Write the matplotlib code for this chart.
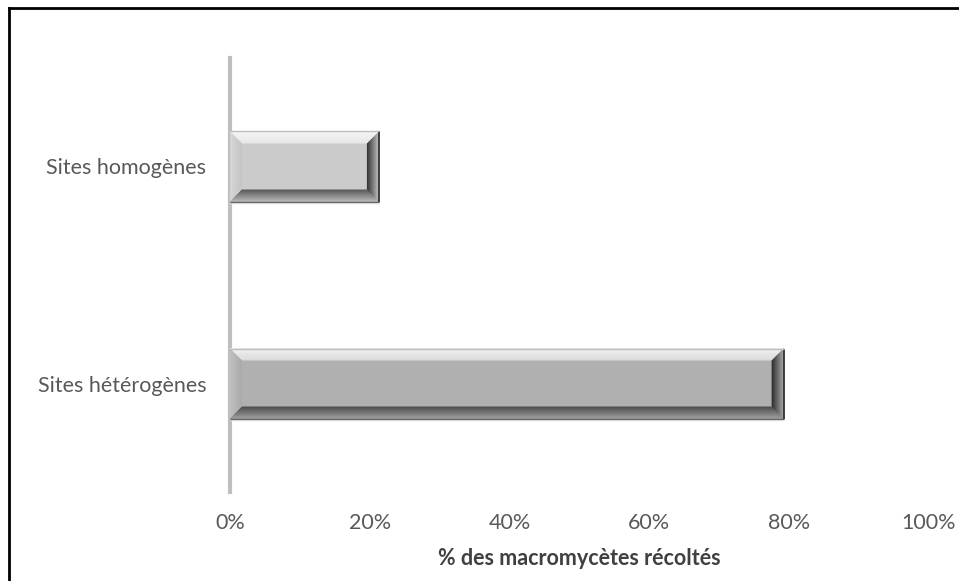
import numpy as np
import matplotlib.pyplot as plt
from matplotlib.patches import Polygon
from matplotlib.lines import Line2D
from matplotlib.colors import to_rgb

plt.rcParams['font.family'] = ['Lato', 'DejaVu Sans']

# données
categories = ['Sites hétérogènes', 'Sites homogènes']
pourcentages = [79.2, 21.3]
couleurs = ['#b0b0b0', '#cbcbcb']
xticks = [0, 20, 40, 60, 80, 100]
xlabel = '% des macromycètes récoltés'

W, H = 959, 581
fig = plt.figure(figsize=(W / 100, H / 100), dpi=100)
x0, x1, y0, y1 = 230, 929, 58, 492
ax = fig.add_axes([x0 / W, 1 - y1 / H, (x1 - x0) / W, (y1 - y0) / H])
ax.set_xlim(0, 100)
ax.set_ylim(-0.5, 1.5)

px_x = 100 / (x1 - x0)
px_y = 2 / (y1 - y0)
hauteur = 70 * px_y


def shade(c, f):
    c = np.array(to_rgb(c))
    if f > 0:
        return tuple(c + (1 - c) * f)
    return tuple(c * (1 + f))


def mix(a, b, t):
    return tuple(np.array(a) * (1 - t) + np.array(b) * t)


def barre_biseautee(y, val, col):
    h = hauteur / 2
    ax.barh(y, val, height=hauteur, color=col, edgecolor='none', zorder=2)
    bx, by = 12 * px_x, 12 * px_y
    xl, xr, yb, yt = 0, val, y - h, y + h
    # (bord extérieur, bord intérieur) de chaque facette
    teintes = {
        'haut': (shade(col, 0.55), shade(col, 0.8)),
        'gauche': (shade(col, -0.03), shade(col, 0.2)),
        'bas': (shade(col, -0.55), shade(col, -0.12)),
        'droite': (shade(col, -0.72), shade(col, -0.08)),
    }
    n = 10
    for k in range(n):
        t = 1 - k / n
        dx, dy = bx * t, by * t
        u = k / (n - 1)
        faces = [
            ([(xl, yt), (xr, yt), (xr - dx, yt - dy), (xl + dx, yt - dy)], 'haut'),
            ([(xl, yb), (xl, yt), (xl + dx, yt - dy), (xl + dx, yb + dy)], 'gauche'),
            ([(xl, yb), (xr, yb), (xr - dx, yb + dy), (xl + dx, yb + dy)], 'bas'),
            ([(xr, yb), (xr, yt), (xr - dx, yt - dy), (xr - dx, yb + dy)], 'droite'),
        ]
        for pts, nom in faces:
            c = mix(*teintes[nom], u)
            ax.add_patch(Polygon(pts, closed=True, facecolor=c, edgecolor='none', zorder=3 + k))
    ax.plot([xr, xr], [yb, yt], color='#303030', lw=1.3, zorder=20, solid_capstyle='butt')
    ax.plot([xl, xr], [yb, yb], color='#4a4a4a', lw=0.8, zorder=20, solid_capstyle='butt')
    ax.plot([xl, xr], [yt, yt], color='#bdbdbd', lw=1.0, zorder=20, solid_capstyle='butt')
    ax.plot([xl, xr], [yb - 1.5 * px_y, yb - 1.5 * px_y], color='#d9d9d9', lw=1.0, zorder=20,
            solid_capstyle='butt')


for i, (v, c) in enumerate(zip(pourcentages, couleurs)):
    barre_biseautee(i, v, c)

for s in ['top', 'right', 'bottom']:
    ax.spines[s].set_visible(False)
ax.spines['left'].set_color('#bfbfbf')
ax.spines['left'].set_linewidth(3)
ax.spines['left'].set_zorder(1)

ax.set_yticks([0, 1])
ax.set_yticklabels(categories, fontsize=15.5, color='#595959')
ax.set_xticks(xticks)
ax.set_xticklabels([f'{t}%' for t in xticks], fontsize=15.5, color='#595959')
ax.tick_params(axis='both', length=0)
ax.tick_params(axis='y', pad=17)
ax.tick_params(axis='x', pad=15)
ax.set_xlabel(xlabel, fontsize=15.5, fontweight='bold', color='#404040', labelpad=11)

# cadre du graphique (haut et gauche)
fig.add_artist(Line2D([8.5 / W, 8.5 / W], [0, 1 - 7.5 / H], color='black', lw=2, transform=fig.transFigure))
fig.add_artist(Line2D([8.5 / W, 1], [1 - 7.5 / H, 1 - 7.5 / H], color='black', lw=2, transform=fig.transFigure))

fig.savefig('out.png', dpi=100)
